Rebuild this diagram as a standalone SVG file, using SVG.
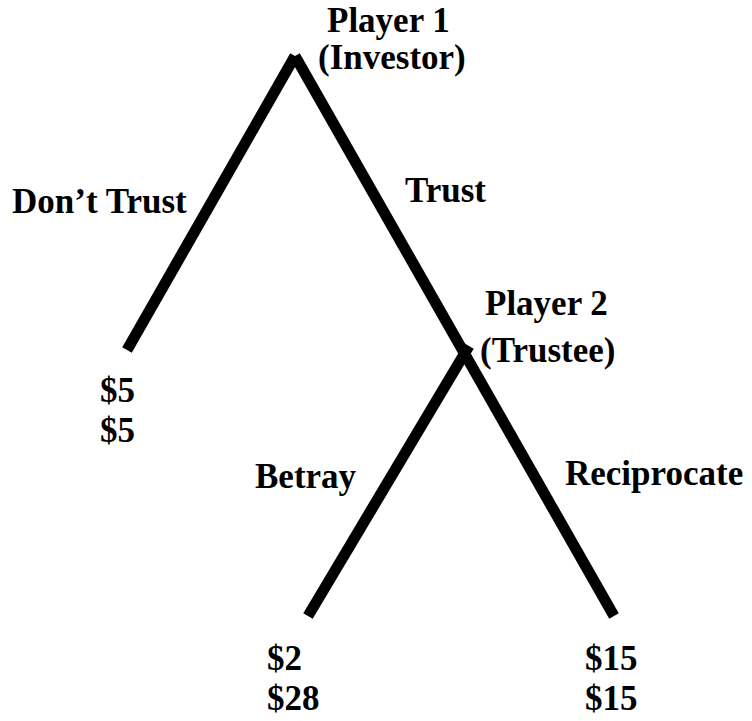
<svg xmlns="http://www.w3.org/2000/svg" width="752" height="721" viewBox="0 0 752 721">
<style>
.t{font-family:"Liberation Serif","Times New Roman",serif;font-weight:bold;font-size:35px;fill:#000}
.e{stroke:#000;stroke-width:11;fill:none;stroke-linecap:butt}
</style>
<rect width="752" height="721" fill="#fff"/>
<g id="connectors">
<line class="e" x1="295" y1="56" x2="127" y2="350"/>
<line class="e" x1="295" y1="56" x2="614" y2="616"/>
<line class="e" x1="469" y1="346" x2="308" y2="616"/>
</g>
<g id="player1">
<text class="t" x="327" y="32">Player 1</text>
<text class="t" x="318" y="69">(Investor)</text>
</g>
<g id="dont-trust"><text class="t" x="12" y="213">Don’t Trust</text></g>
<g id="trust"><text class="t" x="405" y="202">Trust</text></g>
<g id="player2">
<text class="t" x="485" y="315">Player 2</text>
<text class="t" x="480" y="362">(Trustee)</text>
</g>
<g id="payoff-dont-trust">
<text class="t" x="100" y="402">$5</text>
<text class="t" x="100" y="442">$5</text>
</g>
<g id="betray"><text class="t" x="255" y="488">Betray</text></g>
<g id="reciprocate"><text class="t" x="565" y="485">Reciprocate</text></g>
<g id="payoff-betray">
<text class="t" x="267" y="670">$2</text>
<text class="t" x="267" y="710">$28</text>
</g>
<g id="payoff-reciprocate">
<text class="t" x="585" y="670">$15</text>
<text class="t" x="585" y="710">$15</text>
</g>
</svg>
